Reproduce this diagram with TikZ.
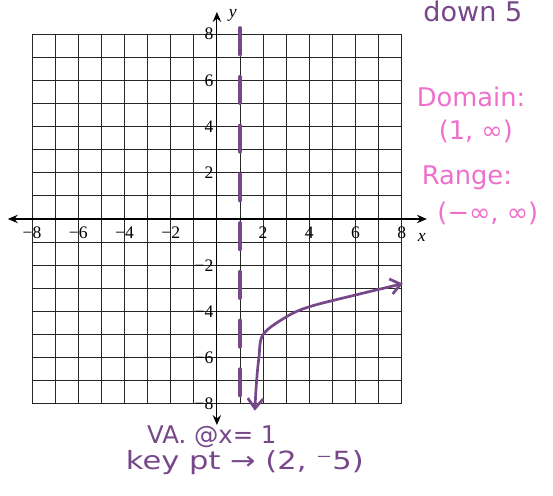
\documentclass[tikz,border=0pt]{standalone}
\usepackage{fontspec}
\setmainfont{Liberation Serif}
\newfontfamily\handfont{DejaVu Sans}
\newfontfamily\handwide[FakeStretch=1.22]{DejaVu Sans}
\usetikzlibrary{arrows.meta}
\definecolor{penpurple}{RGB}{118,72,138}
\definecolor{penpink}{RGB}{238,112,204}

\begin{document}
\begin{tikzpicture}[x=.6cm,y=.6cm,
  gridline/.style={black!85,line width=.6pt},
  axisline/.style={line width=.8pt,{Stealth[length=2.6mm,width=2.2mm,inset=.9mm]}-{Stealth[length=2.6mm,width=2.2mm,inset=.9mm]}},
  ticklbl/.style={inner sep=0,font=\fontsize{13}{15}\selectfont},
  axislbl/.style={inner sep=0,font=\fontsize{13}{15}\selectfont\itshape},
  asymptote/.style={penpurple,line width=2.6pt,line cap=round,dash pattern=on .69cm off .576cm},
  logcurve/.style={penpurple,line width=2pt,line cap=round,
    {Straight Barb[length=2.6mm,width=4mm]}-{Straight Barb[length=2.6mm,width=4mm]}},
  pinknote/.style={text=penpink,inner sep=0,font=\handfont\fontsize{19}{21}\selectfont},
  purplenote/.style={text=penpurple,inner sep=0,font=\handfont\fontsize{18}{20}\selectfont},
  keynote/.style={purplenote,font=\handwide\fontsize{18.5}{20}\selectfont}]
\useasboundingbox (-9.39,-11.99) rectangle (14.55,9.48);

% graph paper
\draw[gridline,step=.6cm] (-8,-8) grid (8,8);

% axes
\coordinate (xl) at (-9.05,0);
\coordinate (xr) at (9.09,0);
\coordinate (yb) at (0,-8.92);
\coordinate (yt) at (0,8.96);
\draw[axisline] (xl) -- (xr);
\draw[axisline] (yb) -- (yt);
\node[axislbl] (xname) at (8.87,-.78) {x};
\node[axislbl] (yname) at (.69,8.83) {y};

% tick labels
\foreach \k in {2,4,6,8}{
  \node[ticklbl,anchor=north] (xp\k) at (\k,-.33) {\k};
  \node[ticklbl,anchor=north] (xn\k) at (-\k,-.33) {−\k};
  \node[ticklbl,anchor=east] (yp\k) at (-.14,\k) {\k};
  \node[ticklbl,anchor=east] (yn\k) at (-.14,-\k) {−\k};
}

% vertical asymptote x=1
\coordinate (vatop) at (1,8.27);
\coordinate (vabot) at (1,-7.8);
\draw[asymptote] (vatop) -- (vabot);

% shifted log curve through the key point
\draw[logcurve] plot[smooth,tension=.55] coordinates
  {(1.64,-8.3) (1.72,-7) (1.82,-6) (2,-5) (3,-4.24) (4,-3.8) (6,-3.29) (8.05,-2.8)};

% notes
\node[purplenote,font=\handfont\fontsize{20}{22}\selectfont] (shift) at (11.08,9.0) {down 5};
\node[pinknote] (dom) at (11.0,5.28) {Domain:};
\node[pinknote] (domval) at (11.21,3.81) {(1, ∞)};
\node[pinknote] (ran) at (10.82,1.77) {Range:};
\node[pinknote] (ranval) at (11.73,.26) {(−∞, ∞)};
\node[purplenote] (va) at (-.22,-9.44) {VA. @x= 1};
\node[keynote] (keypt) at (1.21,-10.56) {key pt → (2, ⁻5)};
\end{tikzpicture}
\end{document}
